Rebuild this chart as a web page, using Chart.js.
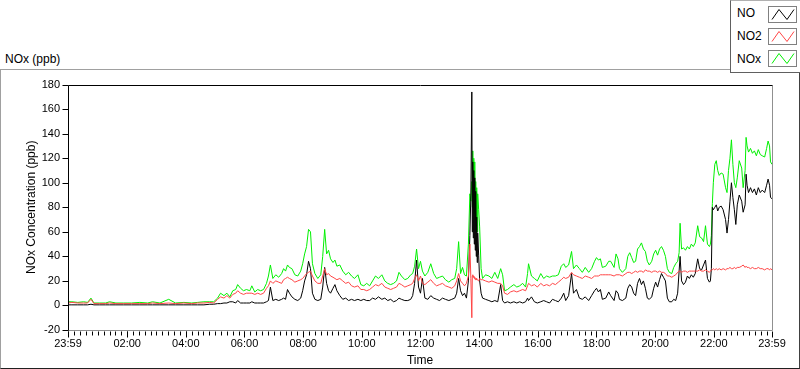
<!DOCTYPE html>
<html lang="en">
<head>
<meta charset="UTF-8">
<title>NOx (ppb)</title>
<script src="https://cdn.jsdelivr.net/npm/chart.js"></script>
<style>
    body { margin: 0; background: #fff; font-family: "Liberation Sans", Arial, sans-serif; color: #000; }
    #page { position: relative; width: 800px; height: 369px; overflow: hidden; }
    #panel {
        position: absolute; left: 0; top: 69px; width: 798px; height: 298px;
        border-top: 1px solid #a0a0a0; border-left: 1px solid #a0a0a0;
        border-right: 1px solid #404040; border-bottom: 1px solid #202020;
    }
    #plotTitle { position: absolute; left: 5px; top: 52px; font-size: 12px; line-height: 14px; }
    #legend {
        position: absolute; left: 730px; top: 0; width: 72px; height: 71px; background: #fff;
        border-left: 1px solid #606060; border-bottom: 1px solid #606060; border-top: 1px solid #b0b0b0;
        z-index: 3;
    }
    .lg-label { position: absolute; left: 6px; font-size: 12px; line-height: 14px; }
    .lg-swatch { position: absolute; left: 37px; width: 27px; height: 15px; border: 1px solid #808080; background: #fff; }
    .lg-swatch svg { display: block; }
    #chartBox { position: absolute; left: 0; top: 70px; width: 800px; height: 299px; z-index: 2; }
</style>
</head>
<body>
<div id="page">
    <div id="panel"></div>
    <div id="plotTitle">NOx (ppb)</div>
    <div id="legend"></div>
    <div id="chartBox"><canvas id="noxChart"></canvas></div>
</div>

<script>
    // minutes since 23:59 of the previous day
    const minutes = [
        0, 8, 20, 32, 40, 47, 53, 65, 77, 85, 98, 114, 130, 147, 163, 173, 188, 206, 220, 237,
        253, 265, 278, 290, 298, 306, 312, 319, 325, 331, 337, 343, 347, 353,
        359, 365, 372, 376, 382, 388, 394, 400, 406, 410, 414, 419, 425, 431, 437, 441, 445, 449,
        453, 458, 464, 470, 476, 480, 484, 488, 492, 496, 500, 505, 511, 517, 521, 525, 529, 533,
        537, 542, 546, 550, 556, 562, 568, 574, 580, 586, 593, 599, 605, 611,
        617, 623, 629, 635, 642, 648, 654, 660, 666, 672, 677, 682, 689, 695, 701, 705, 709, 713,
        717, 721, 725, 730, 736, 742, 748, 754, 760, 766, 772, 779, 785, 791, 795, 799, 803, 807,
        811, 815, 819, 822, 824, 826, 827, 828, 829, 830, 831, 832, 833, 834, 835, 836, 837, 838,
        840, 842, 845, 848, 854, 861, 867,
        873, 879, 885, 889, 893, 899, 905, 912, 918, 924, 930, 936, 940, 942, 948, 954, 960, 967,
        973, 979, 985, 991, 997, 1003, 1009, 1014, 1018, 1024, 1030, 1034, 1040, 1046, 1052, 1058,
        1065, 1071, 1077, 1081, 1085, 1089, 1093, 1100, 1106,
        1110, 1117, 1121, 1125, 1128, 1134, 1141, 1145, 1149, 1153, 1157, 1161, 1165, 1169, 1173,
        1177, 1181, 1185, 1189, 1194, 1198, 1202, 1206, 1210, 1214, 1218, 1222, 1226, 1230, 1235,
        1239, 1243, 1247, 1250, 1252, 1255, 1259, 1263, 1267, 1271, 1275, 1279, 1283, 1288, 1292,
        1296, 1300, 1304, 1308, 1312,
        1314, 1316, 1318, 1320, 1323, 1326, 1329, 1332, 1336, 1340, 1345, 1348, 1351, 1354, 1357,
        1360, 1363, 1366, 1369, 1373, 1378, 1381, 1385, 1387, 1389, 1392, 1396, 1400, 1404, 1408,
        1412, 1416, 1420, 1425, 1429, 1432, 1435, 1437, 1440
    ];

    const noValues = [
        0.5, 0.5, 0.5, 0.5, 0.5, 1, 0.5, 0.5, 0.5, 0.5, 0.5, 0.5, 0.5, 0.5, 0.5, 0.5, 0.5, 0.5, 0.5, 0.5,
        0.5, 0.5, 0.5, 1, 1, 1.5, 1.5, 2, 2, 3, 3, 2, 4, 2,
        2, 2, 2, 3, 2, 2, 2, 2, 3, 4, 15, 4, 5, 4, 5, 6, 5, 13,
        10, 7, 5, 4, 6, 12, 20, 25, 36, 30, 10, 5, 4, 5, 15, 31, 18, 12,
        10, 14, 17, 12, 8, 5, 6, 4, 5, 4, 5, 4, 5, 4,
        4, 6, 5, 7, 5, 6, 4, 5, 3, 4, 6, 5, 4, 4, 5, 8, 18, 37,
        15, 10, 22, 6, 5, 8, 6, 5, 4, 6, 5, 4, 5, 6, 10, 22, 12, 8,
        10, 6, 20, 57, 90, 174, 60, 117, 55, 110, 50, 104, 45, 93, 40, 72, 35, 59,
        41, 20, 10, 6, 5, 4, 3,
        4, 3, 17, 4, 2, 3, 2, 3, 2, 3, 2, 3, 6, 4, 7, 3, 2, 3,
        4, 3, 2, 5, 4, 3, 6, 10, 4, 8, 26, 10, 13, 6, 5, 7,
        4, 8, 12, 14, 11, 13, 5, 6, 11,
        8, 4, 12, 10, 5, 4, 6, 14, 17, 15, 10, 8, 18, 22, 17,
        20, 14, 6, 5, 7, 14, 19, 15, 21, 26, 23, 20, 6, 3, 3,
        5, 4, 10, 28, 40, 20, 17, 19, 24, 22, 25, 23, 26, 38, 30,
        29, 33, 37, 22, 19,
        20, 30, 80, 78, 80, 82, 77, 80, 81, 78, 70, 59, 70, 85, 100,
        88, 78, 66, 82, 90, 85, 76, 82, 107, 98, 92, 96, 92, 95, 90,
        96, 92, 94, 92, 98, 103, 98, 88, 87
    ];

    const no2Values = [
        2, 2.5, 2, 2, 2, 5, 1.5, 1.5, 1.5, 2, 1.5, 1.5, 1.5, 1.5, 1.5, 2, 1.5, 2, 1.5, 2,
        1.5, 2, 2, 2.5, 2, 5, 7, 6, 8, 6, 9, 10, 12, 10,
        9, 10, 10, 10, 9, 10, 9, 10, 14, 16, 20, 18, 20, 19, 18, 21, 22, 23,
        22, 21, 19, 20, 21, 22, 24, 26, 27, 28, 24, 20, 18, 18, 24, 30, 25, 26,
        24, 23, 22, 21, 22, 20, 18, 19, 16, 15, 16, 13, 13, 12,
        13, 15, 17, 16, 18, 15, 14, 13, 14, 15, 18, 17, 15, 16, 17, 18, 22, 25,
        20, 24, 18, 17, 19, 21, 18, 16, 17, 18, 16, 15, 14, 16, 20, 26, 20, 18,
        16, 18, 24, 50, 22, -10, 24, 25, 23, 24, 22, 23, 21, 22, 22, 21, 21, 21,
        20, 22, 21, 21, 20, 19, 20,
        19, 18, 18, 16, 10, 9, 11, 12, 11, 12, 13, 12, 16, 18, 16, 17, 15, 18,
        16, 17, 16, 18, 17, 19, 21, 23, 22, 23, 27, 25, 24, 23, 22, 24,
        23, 22, 24, 24, 24, 25, 25, 25, 25,
        25, 24, 25, 25, 25, 24, 26, 27, 27, 26, 27, 28, 27, 28, 28,
        27, 29, 28, 28, 27, 28, 28, 27, 28, 27, 27, 26, 24, 24, 23,
        24, 25, 27, 28, 28, 27, 28, 28, 27, 28, 28, 28, 28, 28, 29,
        28, 28, 29, 28, 27,
        28, 29, 29, 30, 29, 30, 29, 30, 29, 30, 29, 30, 30, 31, 30,
        30, 31, 30, 31, 31, 32, 33, 31, 32, 31, 31, 30, 31, 30, 30,
        31, 30, 30, 29, 30, 30, 29, 30, 29
    ];

    const noxValues = [
        3, 3, 2.5, 3, 2.5, 6, 2, 2, 2, 3, 2, 2, 2, 2.5, 2, 3, 2, 5, 2, 2.5,
        2, 2.5, 3, 3, 3, 6, 10, 8, 10, 7, 12, 13, 17, 14,
        12, 13, 12, 16, 11, 13, 12, 13, 18, 24, 33, 22, 25, 23, 26, 30, 28, 33,
        31, 30, 25, 24, 28, 34, 42, 48, 62, 60, 34, 26, 22, 25, 40, 62, 42, 45,
        38, 35, 37, 32, 33, 28, 25, 27, 24, 22, 25, 17, 16, 18,
        16, 20, 24, 22, 25, 20, 18, 17, 18, 20, 27, 24, 21, 22, 25, 26, 32, 46,
        30, 36, 28, 24, 27, 34, 26, 22, 23, 24, 21, 19, 21, 22, 30, 52, 26, 31,
        25, 24, 50, 91, 85, 101, 80, 126, 78, 120, 75, 117, 70, 101, 65, 96, 60, 91,
        78, 64, 30, 22, 25, 24, 22,
        27, 22, 30, 25, 12, 13, 15, 17, 15, 16, 18, 15, 26, 34, 24, 22, 20, 26,
        22, 24, 23, 24, 24, 25, 32, 34, 31, 33, 44, 30, 33, 30, 27, 31,
        27, 30, 36, 39, 37, 38, 31, 32, 36,
        36, 31, 42, 38, 30, 27, 30, 40, 43, 39, 35, 36, 46, 48, 51,
        46, 44, 36, 33, 36, 42, 45, 41, 46, 48, 45, 40, 30, 27, 26,
        31, 34, 36, 43, 67, 46, 47, 45, 48, 46, 50, 48, 51, 65, 56,
        55, 52, 65, 50, 48,
        50, 57, 83, 100, 115, 118, 110, 106, 108, 107, 96, 92, 110, 120, 135,
        115, 100, 96, 104, 118, 112, 96, 110, 137, 130, 125, 128, 124, 126, 122,
        127, 123, 122, 121, 128, 134, 130, 117, 115
    ];

    const xTickValues = [0, 121, 241, 361, 481, 601, 721, 841, 961, 1081, 1201, 1321, 1440];
    const xTickLabels = ['23:59', '02:00', '04:00', '06:00', '08:00', '10:00', '12:00',
                         '14:00', '16:00', '18:00', '20:00', '22:00', '23:59'];

    const seriesNames = ['NO', 'NO2', 'NOx'];
    const seriesColors = ['#000000', '#ff4646', '#00f000'];

    // Legend (real text + small zigzag swatch)
    const legend = document.getElementById('legend');
    const rowTops = [5, 28, 51];
    const swatchTops = [5, 27, 49];
    seriesNames.forEach((name, i) => {
        const lab = document.createElement('div');
        lab.className = 'lg-label';
        lab.style.top = rowTops[i] + 'px';
        lab.textContent = name;
        legend.appendChild(lab);
        const sw = document.createElement('div');
        sw.className = 'lg-swatch';
        sw.style.top = swatchTops[i] + 'px';
        sw.innerHTML = '<svg width="27" height="15"><polyline points="3,12.5 10,2.5 18,12.5 25,2.5" fill="none" stroke="' +
            seriesColors[i] + '" stroke-width="1"/></svg>';
        legend.appendChild(sw);
    });

    const tickFont = { family: '"Liberation Sans", Arial, sans-serif', size: 11 };
    const titleFont = { family: '"Liberation Sans", Arial, sans-serif', size: 12 };

    // Plot frame and tick marks, drawn through the scales
    const frame = {
        id: 'frame',
        afterDraw(chart) {
            const { ctx, chartArea: a, scales: { x, y } } = chart;
            const L = Math.round(a.left) + 0.5, R = Math.round(a.right) + 0.5;
            const T = Math.round(a.top) + 0.5, B = Math.round(a.bottom) + 0.5;
            ctx.save();
            ctx.lineWidth = 1;
            ctx.strokeStyle = '#909090';
            ctx.beginPath();
            ctx.moveTo(R, T); ctx.lineTo(R, B); ctx.lineTo(L, B);
            ctx.stroke();
            ctx.strokeStyle = '#000';
            ctx.beginPath();
            ctx.moveTo(L, B); ctx.lineTo(L, T); ctx.lineTo(R, T);
            ctx.stroke();

            ctx.beginPath();
            y.ticks.forEach(t => {
                const py = Math.round(y.getPixelForValue(t.value)) + 0.5;
                ctx.moveTo(L - 6, py); ctx.lineTo(L, py);
            });
            for (let m = 1; m < 1440; m += 12) {
                const px = Math.round(x.getPixelForValue(m)) + 0.5;
                ctx.moveTo(px, B + 1); ctx.lineTo(px, B + 5);
            }
            xTickValues.forEach(v => {
                const px = Math.round(x.getPixelForValue(v)) + 0.5;
                ctx.moveTo(px, B + 1); ctx.lineTo(px, B + 7);
            });
            ctx.stroke();
            ctx.restore();
        }
    };

    function pts(values) {
        return minutes.map((m, i) => ({ x: m, y: values[i] }));
    }

    const ctx = document.getElementById('noxChart').getContext('2d');
    const noxChart = new Chart(ctx, {
        type: 'line',
        data: {
            datasets: [
                { label: 'NO2', data: pts(no2Values), borderColor: seriesColors[1], order: 0 },
                { label: 'NO', data: pts(noValues), borderColor: seriesColors[0], order: 1 },
                { label: 'NOx', data: pts(noxValues), borderColor: seriesColors[2], order: 2 }
            ]
        },
        options: {
            responsive: true,
            maintainAspectRatio: false,
            animation: false,
            datasets: {
                line: { borderWidth: 1, pointRadius: 0, tension: 0, fill: false }
            },
            layout: { padding: { left: 18, top: 8, right: 28, bottom: 0 } },
            plugins: {
                legend: { display: false },
                tooltip: { enabled: false }
            },
            scales: {
                x: {
                    type: 'linear',
                    min: 0,
                    max: 1440,
                    afterBuildTicks: s => { s.ticks = xTickValues.map(v => ({ value: v })); },
                    afterFit: s => { s.height = 39; },
                    grid: { display: false, drawTicks: false },
                    border: { display: false },
                    ticks: {
                        autoSkip: false,
                        maxRotation: 0,
                        padding: 7,
                        color: '#000',
                        font: tickFont,
                        callback: v => {
                            const k = xTickValues.indexOf(v);
                            return k >= 0 ? xTickLabels[k] : '';
                        }
                    },
                    title: { display: true, text: 'Time', color: '#000', font: titleFont, padding: { top: 0, bottom: 1 } }
                },
                y: {
                    min: -20,
                    max: 180,
                    afterFit: s => { s.width = 50; },
                    grid: { display: false, drawTicks: false },
                    border: { display: false },
                    ticks: { stepSize: 20, padding: 8, color: '#000', font: tickFont },
                    title: { display: true, text: 'NOx Concentration (ppb)', color: '#000', font: titleFont, padding: { top: 6, bottom: 0 } }
                }
            }
        },
        plugins: [frame]
    });
</script>
</body>
</html>
